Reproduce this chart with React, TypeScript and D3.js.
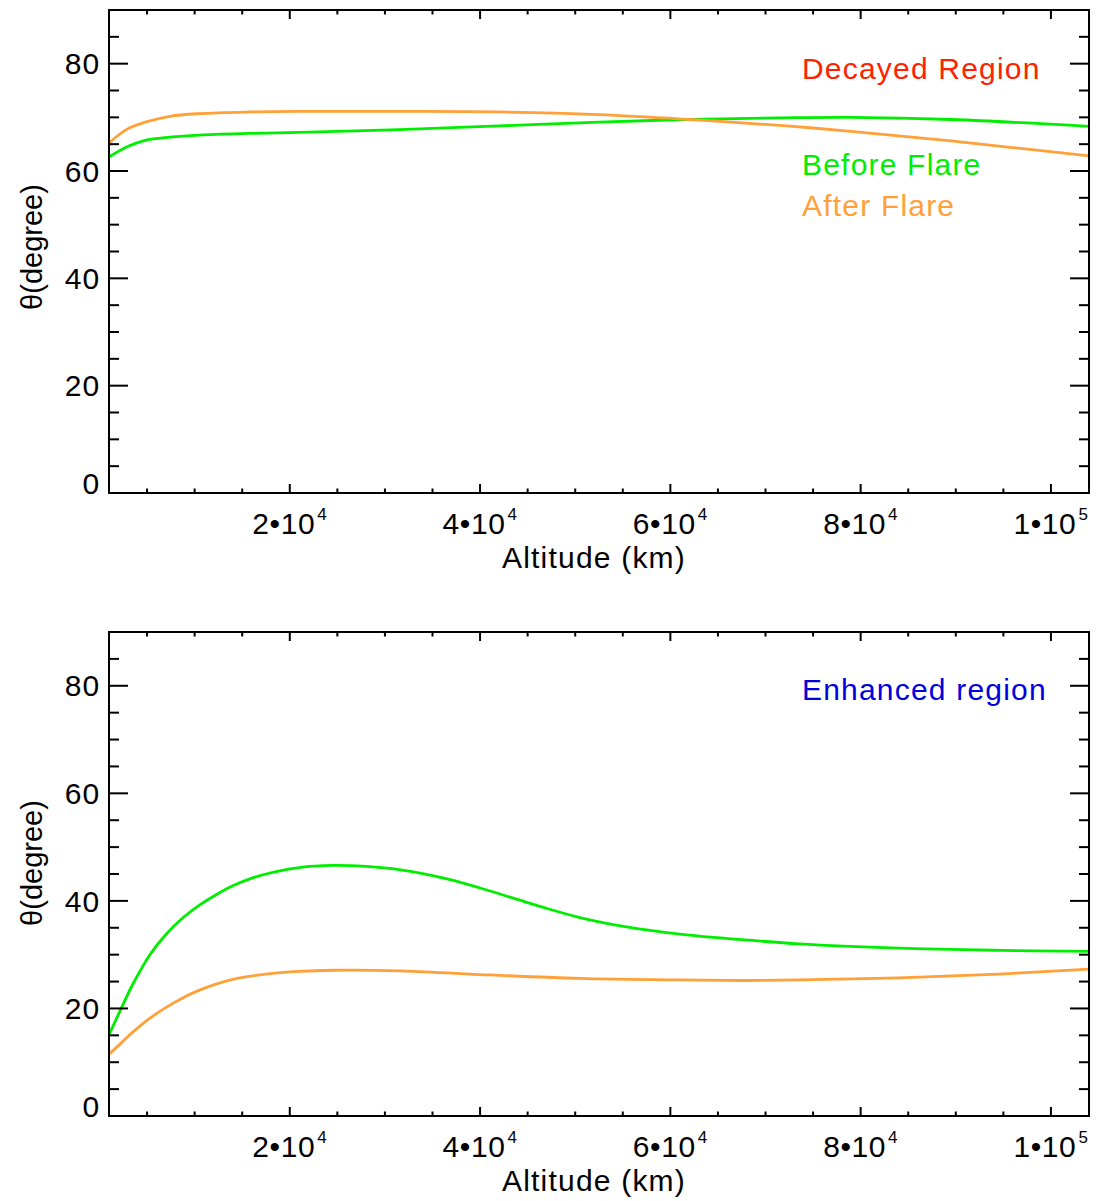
import React from "react";
import * as d3 from "d3";

// ---------- DATA ----------
const altitudeDomain = [1000, 104000];
const thetaDomain = [0, 90];

const xMajorTicks = [20000, 40000, 60000, 80000, 100000];
const xTickMantissa = ["2", "4", "6", "8", "1"];
const xTickExponent = ["4", "4", "4", "4", "5"];
const yMajorTicks = [0, 20, 40, 60, 80];

// Top panel (Decayed Region)
const altTop = [1000, 2900, 4800, 7400, 10500, 15800, 21000, 31500, 42000, 52500, 62000, 71500, 79000, 89500, 104000];
const topBefore = [62.6, 64.5, 65.7, 66.3, 66.7, 67.0, 67.2, 67.7, 68.4, 69.1, 69.6, 69.9, 70.0, 69.6, 68.3];
const topAfter = [65.2, 67.8, 69.1, 70.2, 70.7, 71.0, 71.1, 71.1, 71.0, 70.5, 69.6, 68.5, 67.4, 65.6, 62.8];

// Bottom panel (Enhanced region)
const altBottomBefore = [1000, 2200, 3500, 5300, 7000, 8800, 10500, 12300, 14000, 15800, 17500, 21000, 24500, 28000, 31500, 36500, 40000, 43500, 47000, 50500, 54000, 57500, 61000, 64500, 67500, 73500, 84000, 94500, 104000];
const bottomBefore = [15.1, 19.7, 24.5, 30.0, 33.8, 36.9, 39.2, 41.2, 42.8, 44.1, 45.0, 46.2, 46.6, 46.4, 45.8, 44.1, 42.4, 40.5, 38.6, 36.9, 35.6, 34.6, 33.8, 33.2, 32.8, 32.0, 31.2, 30.8, 30.6];
const altBottomAfter = [1000, 2300, 3500, 5000, 7000, 8800, 10500, 14000, 17500, 21000, 24500, 31500, 40000, 50500, 61000, 67500, 73500, 84000, 94500, 104000];
const bottomAfter = [11.5, 13.6, 15.6, 17.8, 20.2, 22.0, 23.4, 25.4, 26.4, 26.9, 27.1, 27.0, 26.3, 25.6, 25.3, 25.2, 25.3, 25.7, 26.4, 27.3];

// ---------- STYLE ----------
const W = 1098;
const H = 1201;
const LEFT = 109;
const RIGHT = 1089;
const FONT = "'Liberation Sans', Arial, Helvetica, sans-serif";
const FS = 30;
const LS = 1.2;
const GREEN = "#00ee00";
const ORANGE = "#ffa038";
const RED = "#ff2200";
const BLUE = "#0000dd";

type Series = { alt: number[]; val: number[]; color: string };
type Label = { text: string; color: string; y: number };

function Panel({ top, bottom, series, labels, yLabelY }: { top: number; bottom: number; series: Series[]; labels: Label[]; yLabelY: number }) {
  const x = d3.scaleLinear().domain(altitudeDomain).range([LEFT, RIGHT]);
  const y = d3.scaleLinear().domain(thetaDomain).range([bottom, top]);
  const line = d3
    .line<[number, number]>()
    .x((d) => x(d[0]))
    .y((d) => y(d[1]))
    .curve(d3.curveCatmullRom.alpha(0.5));

  const yMinor = d3.range(5, 90, 5).filter((v) => v % 20 !== 0);
  const xMinor = d3.range(5000, 104000, 5000).filter((v) => v % 20000 !== 0);

  return (
    <g>
      {series.map((s, i) => (
        <path
          key={i}
          d={line(s.alt.map((a, j) => [a, s.val[j]] as [number, number])) || ""}
          fill="none"
          stroke={s.color}
          strokeWidth={2.8}
        />
      ))}
      {/* frame */}
      <rect x={LEFT} y={top} width={RIGHT - LEFT} height={bottom - top} fill="none" stroke="#000" strokeWidth={2} />
      {/* y ticks */}
      {yMajorTicks.map((v) => (
        <g key={"ym" + v}>
          <line x1={LEFT} x2={LEFT + 19} y1={y(v)} y2={y(v)} stroke="#000" strokeWidth={2} />
          <line x1={RIGHT} x2={RIGHT - 19} y1={y(v)} y2={y(v)} stroke="#000" strokeWidth={2} />
          <text
            x={100.5}
            y={v === 0 ? y(v) + 1 : y(v) + 10.7}
            textAnchor="end"
            fontFamily={FONT}
            fontSize={FS}
            letterSpacing={LS}
            fill="#000"
          >
            {v}
          </text>
        </g>
      ))}
      {yMinor.map((v) => (
        <g key={"yn" + v}>
          <line x1={LEFT} x2={LEFT + 10} y1={y(v)} y2={y(v)} stroke="#000" strokeWidth={2} />
          <line x1={RIGHT} x2={RIGHT - 10} y1={y(v)} y2={y(v)} stroke="#000" strokeWidth={2} />
        </g>
      ))}
      {/* x ticks */}
      {xMajorTicks.map((v, i) => (
        <g key={"xm" + v}>
          <line x1={x(v)} x2={x(v)} y1={bottom} y2={bottom - 9} stroke="#000" strokeWidth={2} />
          <line x1={x(v)} x2={x(v)} y1={top} y2={top + 9} stroke="#000" strokeWidth={2} />
          <text x={x(v)} y={bottom + 41} textAnchor="middle" fontFamily={FONT} fontSize={FS} letterSpacing={0.6} fill="#000">
            {xTickMantissa[i] + "•10"}
            <tspan dx={2} dy={-14} fontSize={17}>
              {xTickExponent[i]}
            </tspan>
          </text>
        </g>
      ))}
      {xMinor.map((v) => (
        <g key={"xn" + v}>
          <line x1={x(v)} x2={x(v)} y1={bottom} y2={bottom - 4.5} stroke="#000" strokeWidth={2} />
          <line x1={x(v)} x2={x(v)} y1={top} y2={top + 4.5} stroke="#000" strokeWidth={2} />
        </g>
      ))}
      {/* axis titles */}
      <text x={594} y={bottom + 75} textAnchor="middle" fontFamily={FONT} fontSize={FS} letterSpacing={LS} fill="#000">
        Altitude (km)
      </text>
      <text
        transform={`translate(42,${yLabelY}) rotate(-90)`}
        textAnchor="middle"
        fontFamily={FONT}
        fontSize={29}
        fill="#000"
      >
        θ(degree)
      </text>
      {labels.map((l, i) => (
        <text key={i} x={802} y={l.y} fontFamily={FONT} fontSize={FS} letterSpacing={LS} fill={l.color}>
          {l.text}
        </text>
      ))}
    </g>
  );
}

export default function App() {
  return (
    <svg width={W} height={H} style={{ position: "absolute", left: 0, top: 0, background: "#fff" }}>
      <rect x={0} y={0} width={W} height={H} fill="#fff" />
      <Panel
        top={10}
        bottom={493}
        yLabelY={247}
        series={[
          { alt: altTop, val: topBefore, color: GREEN },
          { alt: altTop, val: topAfter, color: ORANGE },
        ]}
        labels={[
          { text: "Decayed Region", color: RED, y: 78.5 },
          { text: "Before Flare", color: GREEN, y: 174.5 },
          { text: "After Flare", color: ORANGE, y: 216 },
        ]}
      />
      <Panel
        top={632}
        bottom={1116}
        yLabelY={863}
        series={[
          { alt: altBottomBefore, val: bottomBefore, color: GREEN },
          { alt: altBottomAfter, val: bottomAfter, color: ORANGE },
        ]}
        labels={[{ text: "Enhanced region", color: BLUE, y: 699.5 }]}
      />
    </svg>
  );
}
